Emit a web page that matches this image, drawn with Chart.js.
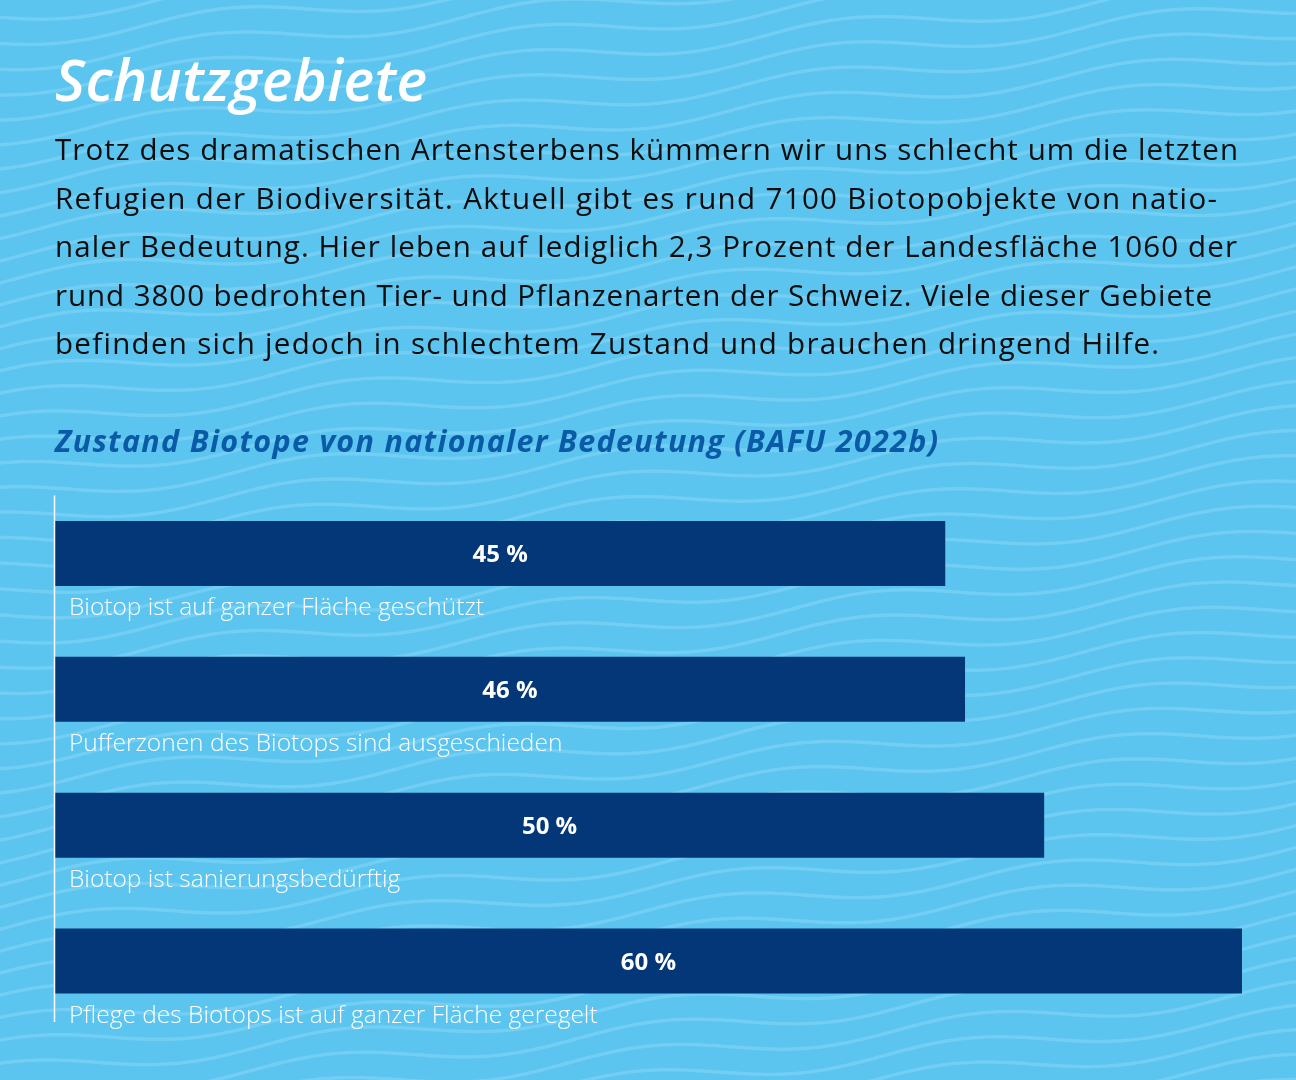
<!DOCTYPE html>
<html>
<head>
<meta charset="utf-8">
<script src="https://cdn.jsdelivr.net/npm/chart.js@4"></script>
<style>
  html,body{margin:0;padding:0;}
  body{width:1296px;height:1080px;position:relative;overflow:hidden;background:#5bc4ef;font-family:"Open Sans",sans-serif;}
  #bg{position:absolute;left:0;top:0;}
  .t{position:absolute;left:55px;white-space:nowrap;line-height:1;}
  #title{top:47px;font-size:53px;font-style:italic;font-weight:600;color:#fff;}
  .p{font-size:27.5px;color:#0d0d0d;}
  #sub{top:425px;font-size:27px;font-weight:700;font-style:italic;color:#0b5aa6;}
  #chartWrap{position:absolute;left:0;top:480px;width:1296px;height:600px;}
</style>
</head>
<body>
<canvas id="bg" width="1296" height="1080"></canvas>
<div class="t" id="title" data-w="372" data-max="58" data-base="98">Schutzgebiete</div>
<div class="t p" data-w="1183" data-max="29.5" data-base="158">Trotz des dramatischen Artensterbens kümmern wir uns schlecht um die letzten</div>
<div class="t p" data-w="1162" data-max="29.5" data-base="207">Refugien der Biodiversität. Aktuell gibt es rund 7100 Biotopobjekte von natio-</div>
<div class="t p" data-w="1182" data-max="29.5" data-base="255">naler Bedeutung. Hier leben auf lediglich 2,3 Prozent der Landesfläche 1060 der</div>
<div class="t p" data-w="1157" data-max="29.5" data-base="304">rund 3800 bedrohten Tier- und Pflanzenarten der Schweiz. Viele dieser Gebiete</div>
<div class="t p" data-w="1104" data-max="29.5" data-base="352">befinden sich jedoch in schlechtem Zustand und brauchen dringend Hilfe.</div>
<div class="t" id="sub" data-w="883" data-max="30.5" data-base="450">Zustand Biotope von nationaler Bedeutung (BAFU 2022b)</div>
<div id="chartWrap"><canvas id="c"></canvas></div>
<script>
// ---- data ----
const categories = [
  "Biotop ist auf ganzer Fläche geschützt",
  "Pufferzonen des Biotops sind ausgeschieden",
  "Biotop ist sanierungsbedürftig",
  "Pflege des Biotops ist auf ganzer Fläche geregelt"
];
const values = [45, 46, 50, 60];
const valueLabels = ["45 %", "46 %", "50 %", "60 %"];

// ---- decorative wave background ----
(function(){
  const cv = document.getElementById('bg');
  const ctx = cv.getContext('2d');
  ctx.fillStyle = '#5bc4ef';
  ctx.fillRect(0,0,1296,1080);
  ctx.strokeStyle = 'rgba(140,215,248,0.5)';
  ctx.lineWidth = 3.5;
  const wl = 330, amp = 9, tilt = -0.1, gap = 24;
  for (let y0 = -200; y0 < 1250; y0 += gap) {
    ctx.beginPath();
    for (let x = -10; x <= 1310; x += 4) {
      const y = y0 + tilt * x + amp * Math.sin((x / wl) * 2 * Math.PI + y0 * 0.01);
      if (x === -10) ctx.moveTo(x, y); else ctx.lineTo(x, y);
    }
    ctx.stroke();
  }
})();

// ---- fit text lines to reference widths (font size first, then spacing) ----
document.querySelectorAll('[data-w]').forEach(el => {
  const target = +el.dataset.w, maxFs = +el.dataset.max;
  const fs0 = parseFloat(getComputedStyle(el).fontSize);
  const w0 = el.getBoundingClientRect().width;
  let fs = Math.min(maxFs, fs0 * target / w0);
  el.style.fontSize = fs + 'px';
  const w1 = el.getBoundingClientRect().width;
  const n = el.textContent.length;
  if (n > 1) el.style.letterSpacing = ((target - w1) / (n - 1)) + 'px';
  el.style.top = (+el.dataset.base - 0.82 * fs) + 'px';
});

// ---- chart ----
const labelPlugin = {
  id: 'barTexts',
  afterDatasetsDraw(chart) {
    const ctx = chart.ctx;
    const meta = chart.getDatasetMeta(0);
    const xs = chart.scales.x;
    ctx.save();
    meta.data.forEach((bar, i) => {
      const p = bar.getProps(['x','y','base','height'], true);
      ctx.fillStyle = '#ffffff';
      ctx.font = '700 24px "Open Sans", sans-serif';
      ctx.textAlign = 'center';
      ctx.textBaseline = 'middle';
      ctx.fillText(valueLabels[i], (p.base + p.x) / 2, p.y + 2);
      ctx.font = '300 24.5px "Open Sans", sans-serif';
      ctx.textAlign = 'left';
      ctx.fillText(categories[i], xs.left + 14, p.y + p.height / 2 + 22);
    });
    const a = chart.chartArea;
    ctx.strokeStyle = '#ffffff';
    ctx.lineWidth = 1.5;
    ctx.beginPath();
    ctx.moveTo(a.left - 0.5, a.top + 10);
    ctx.lineTo(a.left - 0.5, a.bottom - 7);
    ctx.stroke();
    ctx.restore();
  }
};

new Chart(document.getElementById('c'), {
  type: 'bar',
  data: {
    labels: categories,
    datasets: [{
      data: values,
      backgroundColor: '#033777',
      borderWidth: 0,
      barPercentage: 0.956,
      categoryPercentage: 0.5
    }]
  },
  options: {
    indexAxis: 'y',
    responsive: true,
    maintainAspectRatio: false,
    animation: false,
    layout: { padding: { left: 55, right: 54, top: 5.5, bottom: 51 } },
    plugins: { legend: { display: false }, tooltip: { enabled: false } },
    scales: {
      x: { display: false, min: 0, max: 60 },
      y: { display: false }
    }
  },
  plugins: [labelPlugin]
});
</script>
</body>
</html>
